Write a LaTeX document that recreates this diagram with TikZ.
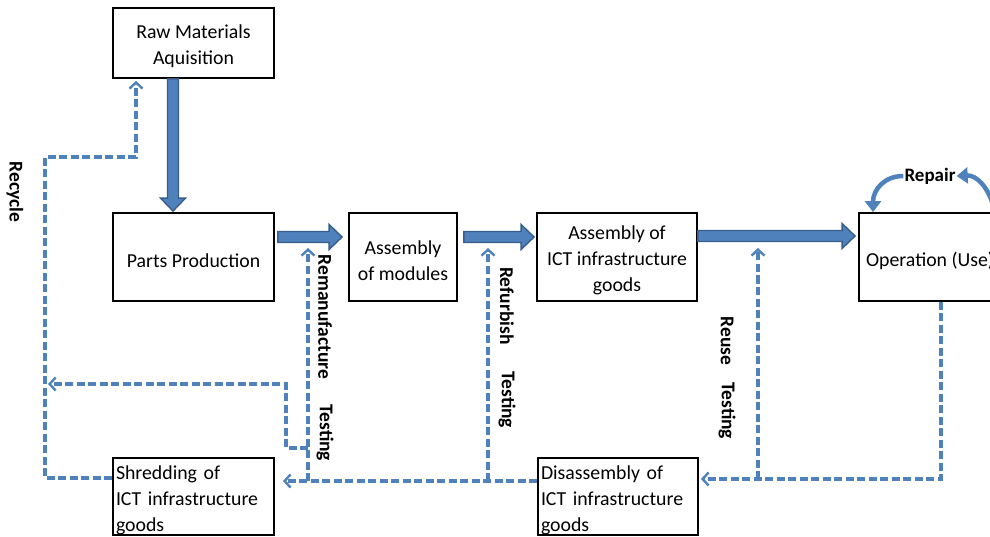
\documentclass[tikz,border=0pt]{standalone}
\usepackage{fontspec}
\setmainfont{Carlito}
\usetikzlibrary{arrows.meta,calc}
\definecolor{lblue}{HTML}{4F81BD}
\definecolor{dblue}{HTML}{385D8A}
\newcommand\mydn[1]{\raisebox{-3.5pt}[\height][\depth]{#1}}
\newcommand\blockarrow[2]{%
  \path (#1) coordinate (bS) (#2) coordinate (bT);
  \path ($(bT)!13pt!(bS)$) coordinate (bH);
  \filldraw[barrow] ($(bS)!5.5pt!90:(bT)$) -- ($(bH)!5.5pt!90:(bT)$) -- ($(bH)!12.5pt!90:(bT)$) -- (bT)
    -- ($(bH)!12.5pt!-90:(bT)$) -- ($(bH)!5.5pt!-90:(bT)$) -- ($(bS)!5.5pt!-90:(bT)$) -- cycle;
}
\tikzset{
  box/.style={draw=black, line width=1.8pt, inner sep=0pt, align=center},
  lbl/.style={font=\fontsize{19.5}{22}\selectfont\bfseries, rotate=-90, inner sep=0pt},
  barrow/.style={fill=lblue, draw=dblue, line width=1.4pt, line join=miter},
  dline/.style={draw=lblue, line width=3.1pt, dash pattern=on 8pt off 3.5pt},
  dtip/.style={-{Straight Barb[length=6pt,width=13pt,line width=2.4pt]}},
  repair/.style={draw=lblue, line width=4.5pt, -{Triangle[length=11pt,width=16pt]}}
}
\begin{document}
\begin{tikzpicture}[x=1pt,y=-1pt,font=\fontsize{19.8}{26}\selectfont]
\useasboundingbox (0,0) rectangle (990,537);
\clip (0,0) rectangle (990,537);

% boxes
\node[box, minimum width=161pt, minimum height=70pt] (raw) at (193.5,43) {\mydn{Raw Materials}\\\mydn{Aquisition}};
\node[box, minimum width=161pt, minimum height=88pt] (parts) at (193.5,257) {\mydn{Parts Production}};
\node[box, minimum width=108pt, minimum height=88pt] (modules) at (403,257) {\mydn{Assembly}\\\mydn{of modules}};
\node[box, minimum width=160pt, minimum height=88pt] (ict) at (617,257) {\mydn{Assembly of}\\\mydn{ICT infrastructure}\\\mydn{goods}};
\node[box, minimum width=142pt, minimum height=88pt] (oper) at (930,257) {\mydn{Operation (Use)}};
\node[box, minimum width=161pt, minimum height=77pt, text width=155pt, align=left, inner xsep=3pt] (shred) at (193.5,496.5) {\mydn{Shredding of}\\\mydn{ICT infrastructure}\\\mydn{goods}};
\node[box, minimum width=160pt, minimum height=77pt, text width=154pt, align=left, inner xsep=3pt] (disas) at (618,496.5) {\mydn{Disassembly of}\\\mydn{ICT infrastructure}\\\mydn{goods}};

% block arrows
\blockarrow{[xshift=-20.5pt]raw.south}{[xshift=-20.5pt,yshift=1pt]parts.north}
\blockarrow{[xshift=3pt,yshift=20pt]parts.east}{[xshift=-6pt,yshift=20pt]modules.west}
\blockarrow{[xshift=6pt,yshift=20pt]modules.east}{[xshift=-2pt,yshift=20pt]ict.west}
\blockarrow{[yshift=21pt]ict.east}{[xshift=-3pt,yshift=21pt]oper.west}

% junction coordinates
\coordinate (jrem) at (308,481);
\coordinate (jref) at (488,481);
\coordinate (jreu) at (758,479);
\coordinate (jrm2) at (308,448);

% dashed return flows
\draw[dline,dtip] ([yshift=18.5pt]shred.west) -| (45,157) -| ([xshift=-57.5pt,yshift=-2pt]raw.south);
\draw[dline,dtip,shorten >=8pt] ([yshift=15.5pt]disas.west) -- ([yshift=15.5pt]shred.east);
\draw[dline,dtip] (jref) -- (488,248);
\draw[dline,dtip] (jrem) -- (308,248);
\draw[dline,dtip] (jrm2) -| (286,384) -- (48,384);
\draw[dline,dtip,shorten >=2pt] ([xshift=11pt]oper.south) |- ([yshift=17.5pt]disas.east);
\draw[dline,dtip] (jreu) -- (758,248);

% repair arrows
\node[font=\fontsize{19}{22}\selectfont\bfseries, inner sep=1pt] (rep) at (930,176) {Repair};
\draw[repair] (rep.west) .. controls (884,176) and (873,190) .. ([xshift=-57pt]oper.north);
\draw[repair] (994,208) .. controls (988,186) and (976,175) .. (rep.east);

% labels
\node[lbl] (lrec) at (15,192) {Recycle};
\node[lbl] (lrem) at (325,317) {Remanufacture};
\node[lbl] (lt1) at (325,433) {Testing};
\node[lbl] (lref) at (507,306) {Refurbish};
\node[lbl] (lt2) at (507,400) {Testing};
\node[lbl] (lreu) at (727,341) {Reuse};
\node[lbl] (lt3) at (727,411) {Testing};
\end{tikzpicture}
\end{document}
